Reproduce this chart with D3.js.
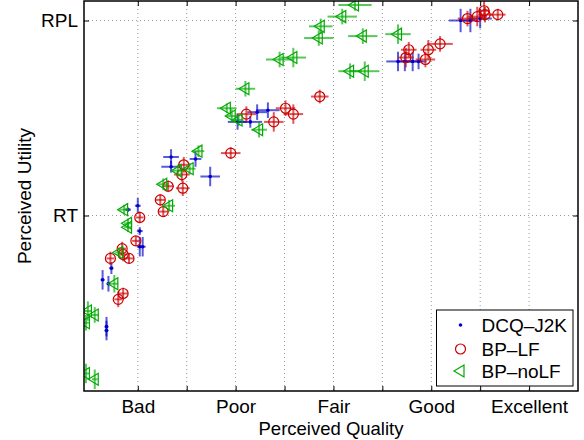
<!DOCTYPE html>
<html><head><meta charset="utf-8">
<script src="https://cdn.jsdelivr.net/npm/d3@7"></script>
<style>
body{margin:0;background:#fff}
text{font-family:"Liberation Sans",Arial,Helvetica,sans-serif}
</style>
</head><body>
<svg id="chart" width="584" height="440"></svg>
<script>
// ---- data ----
const qualityLabels = ["Bad", "Poor", "Fair", "Good", "Excellent"];
const qualityLabelValues = [1, 2, 3, 4, 5];
const qualityTicks = [1, 1.5, 2, 2.5, 3, 3.5, 4, 4.5, 5];
const utilityLabels = ["RT", "RPL"];
const utilityTicks = [1, 2];
const seriesNames = ["DCQ–J2K", "BP–LF", "BP–noLF"];
const xTitle = "Perceived Quality";
const yTitle = "Perceived Utility";

// DCQ-J2K
const dcqX    = [1.34, 1.34, 1.59, 1.74, 1.00, 0.90, 1.02, 1.02, 1.05, 0.73, 0.64, 0.70, 0.68, 0.68, 2.02, 2.15, 2.22, 2.33, 3.66, 3.73, 3.81, 3.87, 4.30, 4.40, 4.50];
const dcqY    = [1.30, 1.25, 1.29, 1.20, 1.05, 1.03, 0.92, 0.84, 0.84, 0.73, 0.67, 0.65, 0.43, 0.41, 1.48, 1.48, 1.53, 1.54, 1.79, 1.79, 1.79, 1.79, 2.00, 2.00, 2.01];
const dcqXErr = [0.08, 0.10, 0.06, 0.10, 0.03, 0.03, 0.03, 0.03, 0.03, 0.02, 0.02, 0.02, 0.02, 0.02, 0.10, 0.12, 0.10, 0.12, 0.12, 0.08, 0.10, 0.08, 0.12, 0.08, 0.12];
const dcqYErr = [0.04, 0.03, 0.04, 0.05, 0.04, 0.01, 0.02, 0.05, 0.05, 0.03, 0.05, 0.04, 0.05, 0.05, 0.04, 0.03, 0.04, 0.04, 0.05, 0.05, 0.05, 0.04, 0.06, 0.06, 0.05];

// BP-LF
const lfX    = [1.47, 1.45, 1.46, 1.31, 1.23, 1.26, 1.02, 0.98, 0.84, 0.85, 0.91, 0.72, 0.85, 0.80, 1.95, 2.11, 2.39, 2.51, 2.59, 2.86, 3.74, 3.77, 3.94, 3.97, 4.09, 4.37, 4.47, 4.54, 4.55, 4.68];
const lfY    = [1.26, 1.21, 1.14, 1.15, 1.08, 1.02, 0.99, 0.87, 0.83, 0.80, 0.78, 0.78, 0.60, 0.57, 1.32, 1.52, 1.48, 1.55, 1.52, 1.61, 1.81, 1.85, 1.80, 1.85, 1.88, 2.01, 2.02, 2.05, 2.03, 2.03];
const lfXErr = [0.06, 0.08, 0.07, 0.06, 0.05, 0.05, 0.04, 0.04, 0.04, 0.04, 0.05, 0.04, 0.05, 0.04, 0.10, 0.10, 0.10, 0.10, 0.10, 0.09, 0.08, 0.08, 0.10, 0.08, 0.13, 0.10, 0.10, 0.06, 0.07, 0.08];
const lfYErr = [0.04, 0.035, 0.04, 0.03, 0.03, 0.025, 0.03, 0.025, 0.035, 0.035, 0.025, 0.035, 0.03, 0.04, 0.03, 0.04, 0.05, 0.04, 0.05, 0.035, 0.05, 0.04, 0.04, 0.05, 0.04, 0.04, 0.05, 0.05, 0.04, 0.03];

// BP-noLF
const nolfX    = [3.22, 3.09, 2.87, 2.85, 3.30, 3.66, 2.45, 2.59, 3.17, 3.32, 2.10, 1.91, 1.96, 2.03, 2.24, 1.62, 1.53, 1.41, 1.26, 1.32, 0.86, 0.90, 0.90, 0.81, 0.76, 0.49, 0.56, 0.47, 0.47, 0.56];
const nolfY    = [2.08, 2.02, 1.97, 1.91, 1.92, 1.93, 1.80, 1.81, 1.74, 1.74, 1.65, 1.55, 1.51, 1.49, 1.44, 1.33, 1.24, 1.23, 1.16, 1.05, 1.03, 0.96, 0.94, 0.81, 0.65, 0.51, 0.49, 0.45, 0.19, 0.16];
const nolfXErr = [0.17, 0.15, 0.12, 0.15, 0.15, 0.13, 0.14, 0.13, 0.12, 0.15, 0.10, 0.10, 0.06, 0.05, 0.08, 0.06, 0.06, 0.06, 0.05, 0.06, 0.05, 0.04, 0.04, 0.04, 0.04, 0.04, 0.04, 0.03, 0.04, 0.03];
const nolfYErr = [0.03, 0.04, 0.04, 0.04, 0.04, 0.05, 0.04, 0.05, 0.04, 0.05, 0.04, 0.025, 0.035, 0.03, 0.04, 0.03, 0.03, 0.03, 0.03, 0.03, 0.025, 0.025, 0.025, 0.025, 0.045, 0.05, 0.04, 0.04, 0.05, 0.05];

const colors = ["#0000c8", "#cc0000", "#00aa00"];

// ---- layout ----
const svg = d3.select("#chart");
const L = 84, R = 578, T = 1, B = 391;
const x = d3.scaleLinear().domain([0.45, 5.5]).range([L, R]);
const y = d3.scaleLinear().domain([0.1, 2.1]).range([B, T]);
const FS = 19;

// grid
const grid = svg.append("g");
grid.selectAll("line.vx").data(qualityTicks).join("line")
  .attr("x1", d => x(d)).attr("x2", d => x(d)).attr("y1", T).attr("y2", B)
  .attr("stroke", "#9a9a9a").attr("stroke-width", 1).attr("stroke-dasharray", "1,3");
grid.selectAll("line.hy").data(utilityTicks).join("line")
  .attr("x1", L).attr("x2", R).attr("y1", d => y(d)).attr("y2", d => y(d))
  .attr("stroke", "#9a9a9a").attr("stroke-width", 1).attr("stroke-dasharray", "1,3");

// clip
svg.append("clipPath").attr("id", "clip").append("rect")
  .attr("x", L).attr("y", T).attr("width", R - L).attr("height", B - T);
const plot = svg.append("g").attr("clip-path", "url(#clip)");

function makeSeries(xs, ys, xe, ye) {
  return xs.map((v, i) => ({x: v, y: ys[i], xe: xe[i], ye: ye[i]}));
}
const series = [
  makeSeries(dcqX, dcqY, dcqXErr, dcqYErr),
  makeSeries(lfX, lfY, lfXErr, lfYErr),
  makeSeries(nolfX, nolfY, nolfXErr, nolfYErr)
];

const triPath = "M-6.5,0L3.5,-6L3.5,6Z";

series.forEach((data, si) => {
  const g = plot.append("g");
  const c = colors[si];
  g.selectAll("line.h").data(data).join("line")
    .attr("x1", d => x(d.x - d.xe)).attr("x2", d => x(d.x + d.xe))
    .attr("y1", d => y(d.y)).attr("y2", d => y(d.y))
    .attr("stroke", c).attr("stroke-width", 2).attr("stroke-opacity", 0.65);
  g.selectAll("line.v").data(data).join("line")
    .attr("x1", d => x(d.x)).attr("x2", d => x(d.x))
    .attr("y1", d => y(d.y - d.ye)).attr("y2", d => y(d.y + d.ye))
    .attr("stroke", c).attr("stroke-width", 2).attr("stroke-opacity", 0.65);
  if (si === 0) {
    g.selectAll("circle").data(data).join("circle")
      .attr("cx", d => x(d.x)).attr("cy", d => y(d.y)).attr("r", 1.8).attr("fill", c);
  } else if (si === 1) {
    g.selectAll("circle").data(data).join("circle")
      .attr("cx", d => x(d.x)).attr("cy", d => y(d.y)).attr("r", 5)
      .attr("fill", "none").attr("stroke", c).attr("stroke-width", 1.2);
  } else {
    g.selectAll("path").data(data).join("path")
      .attr("d", triPath).attr("transform", d => `translate(${x(d.x)},${y(d.y)})`)
      .attr("fill", "none").attr("stroke", c).attr("stroke-width", 1.2);
  }
});

// axes box
svg.append("rect").attr("x", L).attr("y", T).attr("width", R - L).attr("height", B - T)
  .attr("fill", "none").attr("stroke", "#000").attr("stroke-width", 1.5);

const lblMap = new Map(qualityLabelValues.map((v, i) => [v, qualityLabels[i]]));
const ax = svg.append("g").attr("transform", `translate(0,${B})`)
  .call(d3.axisBottom(x).tickValues(qualityTicks).tickSizeInner(-5).tickSizeOuter(0)
    .tickFormat(d => lblMap.get(d) || ""));
const axTop = svg.append("g").attr("transform", `translate(0,${T})`)
  .call(d3.axisTop(x).tickValues(qualityTicks).tickSizeInner(-5).tickSizeOuter(0).tickFormat(""));
const uMap = new Map(utilityTicks.map((v, i) => [v, utilityLabels[i]]));
const ay = svg.append("g").attr("transform", `translate(${L},0)`)
  .call(d3.axisLeft(y).tickValues(utilityTicks).tickSizeInner(-5).tickSizeOuter(0)
    .tickFormat(d => uMap.get(d)));
const ayR = svg.append("g").attr("transform", `translate(${R},0)`)
  .call(d3.axisRight(y).tickValues(utilityTicks).tickSizeInner(-5).tickSizeOuter(0).tickFormat(""));
[ax, axTop, ay, ayR].forEach(a => {
  a.select(".domain").remove();
  a.selectAll(".tick line").attr("stroke", "#000").attr("stroke-width", 1);
});
ax.selectAll(".tick text").attr("y", 0).attr("dy", "22px").attr("font-size", FS).attr("fill", "#000")
  .attr("font-family", "Liberation Sans, Arial, sans-serif");
ay.selectAll(".tick text").attr("x", -6).attr("font-size", FS).attr("fill", "#000")
  .attr("font-family", "Liberation Sans, Arial, sans-serif");

// titles
svg.append("text").attr("x", 331).attr("y", 435).attr("text-anchor", "middle")
  .attr("font-size", 18.5).text(xTitle);
svg.append("text").attr("transform", "translate(31,196) rotate(-90)").attr("text-anchor", "middle")
  .attr("font-size", FS).text(yTitle);

// legend
const lg = svg.append("g");
lg.append("rect").attr("x", 436.5).attr("y", 310).attr("width", 136.5).attr("height", 76)
  .attr("fill", "#fff").attr("stroke", "#000").attr("stroke-width", 1);
const rowY = [325, 349, 371];
seriesNames.forEach((name, i) => {
  const cy = rowY[i], cx = 460.5;
  if (i === 0) lg.append("circle").attr("cx", cx).attr("cy", cy).attr("r", 1.8).attr("fill", colors[0]);
  else if (i === 1) lg.append("circle").attr("cx", cx).attr("cy", cy).attr("r", 5)
    .attr("fill", "none").attr("stroke", colors[1]).attr("stroke-width", 1.2);
  else lg.append("path").attr("d", triPath).attr("transform", `translate(${cx},${cy})`)
    .attr("fill", "none").attr("stroke", colors[2]).attr("stroke-width", 1.2);
  lg.append("text").attr("x", 481.5).attr("y", cy).attr("dy", "0.35em")
    .attr("font-size", FS).text(name);
});
</script>
</body></html>
